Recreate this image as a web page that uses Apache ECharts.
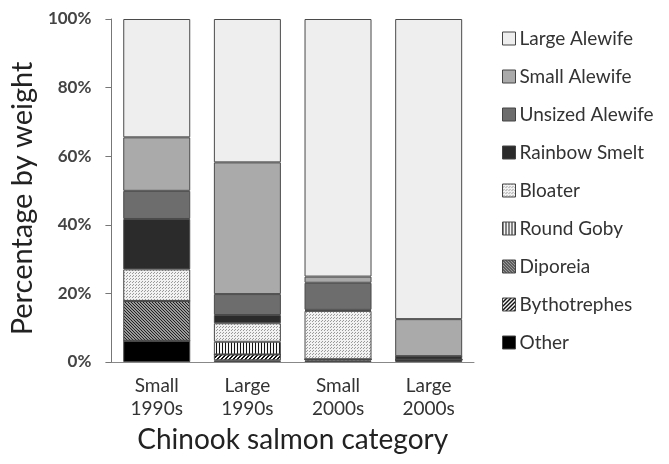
<!DOCTYPE html>
<html><head><meta charset="utf-8">
<script src="https://cdn.jsdelivr.net/npm/echarts@6/dist/echarts.min.js"></script>
<style>html,body{margin:0;padding:0;background:#fff}#c{width:669px;height:464px}</style>
</head><body><div id="c"></div>
<script>
const categories = ['Small\n1990s', 'Large\n1990s', 'Small\n2000s', 'Large\n2000s'];
const seriesNames = ['Other', 'Bythotrephes', 'Diporeia', 'Round Goby', 'Bloater', 'Rainbow Smelt', 'Unsized Alewife', 'Small Alewife', 'Large Alewife'];
const other         = [6.2, 0.5, 0.4, 0.7];
const bythotrephes  = [0, 1.7, 0.4, 0];
const diporeia      = [11.6, 0, 0, 0];
const roundGoby     = [0, 3.7, 0, 0];
const bloater       = [9.2, 5.4, 14.1, 0];
const rainbowSmelt  = [14.7, 2.4, 0.3, 1.0];
const unsizedAlewife= [8.2, 6.1, 7.9, 0];
const smallAlewife  = [15.6, 38.4, 1.8, 10.8];
const largeAlewife  = [34.5, 41.8, 75.1, 87.5];
const yTicks = [0, 20, 40, 60, 80, 100];
const values = [other, bythotrephes, diporeia, roundGoby, bloater, rainbowSmelt, unsizedAlewife, smallAlewife, largeAlewife];

function pat(w, h, draw) {
  const c = document.createElement('canvas'); c.width = w; c.height = h;
  const g = c.getContext('2d'); draw(g, w, h);
  return { image: c, repeat: 'repeat' };
}
const fills = [
  '#000000',
  pat(4, 4, (g) => { g.fillStyle = '#f4f4f4'; g.fillRect(0,0,4,4); g.fillStyle = '#111';
    for (let i = 0; i < 4; i++) { g.fillRect((3 - i) % 4, i, 1, 1); g.fillRect((4 - i) % 4, i, 1, 1); } }),
  pat(3, 3, (g) => { g.fillStyle = '#9a9a9a'; g.fillRect(0,0,3,3); g.fillStyle = '#222';
    for (let i = 0; i < 3; i++) g.fillRect(i, i, 1, 1); }),
  pat(3, 1, (g) => { g.fillStyle = '#f4f4f4'; g.fillRect(0,0,3,1); g.fillStyle = '#111'; g.fillRect(0,0,1,1); }),
  pat(3, 3, (g) => { g.fillStyle = '#f2f2f2'; g.fillRect(0,0,3,3); g.fillStyle = '#9a9a9a'; g.fillRect(0,0,1,1); g.fillRect(1,2,1,1); }),
  '#2b2b2b',
  '#6d6d6d',
  '#aaaaaa',
  '#eeeeee'
];

const series = seriesNames.map((n, i) => ({
  name: n, type: 'bar', stack: 'all', data: values[i], barWidth: 67,
  itemStyle: { color: fills[i], borderColor: '#4a4a4a', borderWidth: 1 }
}));

const chart = echarts.init(document.getElementById('c'));
chart.setOption({
  animation: false,
  textStyle: { fontFamily: 'Lato' },
  grid: { left: 110, right: 195, top: 19, bottom: 102 },
  legend: {
    orient: 'vertical', left: 497, top: 24, itemWidth: 13, itemHeight: 13, itemGap: 19,
    data: seriesNames.slice().reverse(), icon: 'rect',
    textStyle: { fontSize: 19, color: '#333', fontFamily: 'Lato', padding: [0, 0, 0, -1] },
    itemStyle: { borderColor: '#444', borderWidth: 1 }
  },
  xAxis: {
    type: 'category', data: categories,
    name: 'Chinook salmon category', nameLocation: 'middle', nameGap: 64,
    nameTextStyle: { fontSize: 28, color: '#222', fontFamily: 'Lato' },
    axisLine: { lineStyle: { color: '#888', width: 1 } },
    axisTick: { show: false },
    axisLabel: { fontSize: 19, color: '#333', lineHeight: 23, margin: 12, fontFamily: 'Lato' }
  },
  yAxis: {
    type: 'value', min: yTicks[0], max: yTicks[yTicks.length - 1], interval: 20,
    name: 'Percentage by weight', nameLocation: 'middle', nameGap: 72,
    nameTextStyle: { fontSize: 29, color: '#222', fontFamily: 'Lato', padding: [0, 16, 0, 0] },
    axisLine: { show: true, lineStyle: { color: '#777', width: 1 } },
    axisTick: { show: true, length: 6, lineStyle: { color: '#777' } },
    splitLine: { show: false },
    axisLabel: { formatter: '{value}%', fontSize: 17, fontWeight: 'bold', color: '#444', margin: 20, fontFamily: 'Lato' }
  },
  series: series
});
</script></body></html>
